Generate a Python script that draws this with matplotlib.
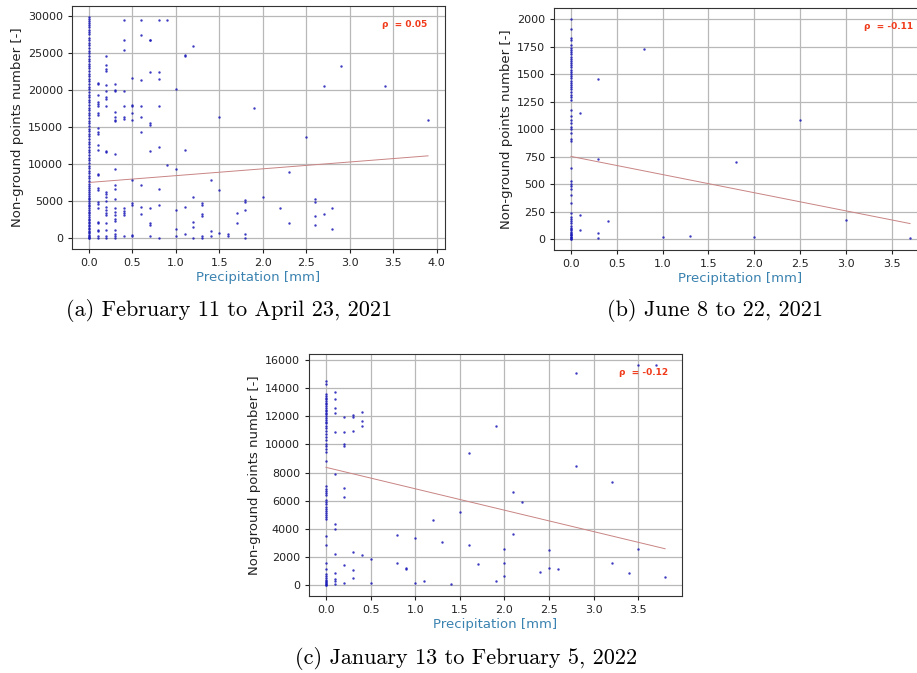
import matplotlib.pyplot as plt
import numpy as np

# Panel (a): February 11 to April 23, 2021
prec_a = [0.1] * 26 + [0.2] * 23 + [0.3] * 21 + [0.4] * 12 + [0.5] * 10 + [0.6] * 9 + [0.7] * 10 + [0.8] * 8 \
    + [0.9] * 2 + [1.0] * 5 + [1.1] * 5 + [1.2] * 5 + [1.3] * 6 + [1.4] * 3 + [1.5] * 3 + [1.6] * 2 + [1.7] * 2 \
    + [1.8] * 5 + [1.9, 2.0, 2.2, 2.3, 2.3, 2.5, 2.6, 2.6, 2.6, 2.6, 2.7, 2.7, 2.8, 2.8, 2.9, 3.4, 3.9]
pts_a = [21000, 20800, 19300, 18400, 18100, 17800, 16900, 16600, 14800, 14300, 14000, 12500, 11900, 8700, 8500,
         6700, 6500, 4900, 4600, 4100, 2200, 2000, 1100, 900, 300, 0,
         24600, 23400, 22900, 22500, 20700, 19900, 19100, 18800, 17900, 11700, 11600, 6200, 5900, 5600, 5000,
         4200, 3800, 3400, 3100, 2000, 1100, 200, 0,
         20800, 20000, 19900, 17000, 16300, 16000, 15800, 11300, 9300, 7200, 6600, 5300, 4000, 3500, 3100, 2500,
         2300, 1100, 500, 200, 0,
         29400, 26700, 25400, 19900, 17900, 16400, 16100, 4000, 3600, 3400, 3100, 300,
         21600, 18000, 17900, 16900, 15900, 7900, 4700, 4400, 400, 200,
         29400, 27400, 21300, 17900, 16300, 14300, 7100, 4200, 3200,
         26800, 26700, 22400, 15500, 15200, 11700, 4000, 2000, 1800, 200,
         29400, 22400, 21500, 17900, 12300, 6600, 4400, 0,
         29400, 9800,
         20100, 9300, 3800, 1200, 200,
         24700, 24600, 11900, 4200, 500,
         26000, 5600, 2200, 1500, 0,
         4700, 4500, 3200, 3000, 300, 0,
         7800, 900, 200,
         16300, 6500, 700,
         500, 300,
         3400, 2000,
         5100, 4800, 3800, 500, 0,
         17500, 5500, 4000, 8900, 2000, 13700, 5200, 4800, 3000, 1800, 20500, 3300, 4000, 1200, 23300, 20600, 16000]
# days without rain
dry_a = [29850, 29650, 29380, 29120, 28750, 28530, 28160, 27820, 27540, 27080, 26790, 26350, 26020, 25730, 25280,
         25040, 24630, 24250, 23870, 23560, 23190, 22940, 22580, 22210, 21860, 21470, 21150, 20780, 20420, 20130,
         19690, 19340, 19010, 18680, 18350, 17960, 17620, 17330, 16920, 16580, 16230, 15870, 15480, 15160, 14790,
         14420, 14080, 13740, 13350, 13020, 12680, 12340, 11920, 11570, 11240, 10860, 10510, 10170, 9780, 9420,
         9080, 8730, 8420, 8050, 7710, 7340, 7020, 6740, 6480, 6210, 5960, 5720, 5460, 5230, 4980, 4740, 4520,
         4260, 4030, 3790, 3520, 3310, 3080, 2840, 2620, 2390, 2180, 1970, 1780, 1560, 1380, 1170, 980, 790,
         620, 440, 300, 170, 60, 0]

# Panel (b): June 8 to 22, 2021
prec_b = [0.8, 0.3, 0.1, 2.5, 0.3, 1.8, 0.1, 0.4, 3.0, 0.1, 0.3, 0.3, 1.0, 1.3, 2.0, 3.7]
pts_b = [1730, 1457, 1142, 1079, 727, 697, 221, 161, 176, 79, 55, 12, 18, 24, 15, 12]
dry_b = [2000, 1905, 1830, 1812, 1764, 1741, 1718, 1703, 1684, 1657, 1641, 1622, 1598, 1583, 1561, 1538, 1522,
         1497, 1483, 1462, 1441, 1418, 1402, 1379, 1362, 1337, 1312, 1291, 1268, 1176, 1118, 1083, 1052, 1021,
         998, 962, 905, 888, 645, 527, 502, 478, 452, 404, 331, 236, 202, 183, 161, 142, 121, 103, 92, 81, 68,
         59, 48, 41, 32, 21, 14, 9, 4, 0]

# Panel (c): January 13 to February 5, 2022
prec_c = [0.1] * 13 + [0.2] * 8 + [0.3] * 6 + [0.4] * 4 + [0.5] * 2 + [0.8] * 2 + [0.9] * 2 + [1.0] * 2 \
    + [1.1, 1.2, 1.3, 1.4, 1.5, 1.6, 1.6, 1.7, 1.9, 1.9, 2.0, 2.0, 2.0, 2.1, 2.1, 2.2, 2.4, 2.5, 2.5, 2.6,
       2.8, 2.8, 3.2, 3.2, 3.4, 3.5, 3.5, 3.7, 3.8]
pts_c = [13710, 13240, 12570, 12270, 10870, 7870, 4350, 3950, 2220, 830, 400, 280, 50,
         11960, 10850, 10040, 9900, 6920, 6240, 1420, 170,
         12100, 11980, 10970, 2340, 1060, 470,
         12290, 11700, 11320, 2170,
         1870, 170,
         3550, 1540,
         1230, 1160,
         3330, 120,
         260, 4590, 3030, 90, 5180, 9380, 2840, 1470, 11320, 280, 2530, 1580, 640, 6590, 3640, 5890, 950, 2480,
         1230, 1160, 15060, 8490, 7330, 1540, 870, 15650, 2530, 15650, 590]
dry_c = [14540, 14310, 13620, 13480, 13330, 13210, 13080, 12960, 12850, 12730, 12620, 12480, 12370, 12250,
         12140, 12020, 11880, 11760, 11630, 11490, 11340, 11180, 10960, 10720, 10510, 10280, 10030, 9870, 9660,
         9430, 8820, 7010, 6860, 6710, 6540, 6390, 6080, 5920, 5750, 5560, 5380, 5240, 5110, 4980, 4830, 4660,
         3470, 2880, 1580, 1110, 750, 610, 480, 390, 290, 210, 140, 80, 30, 0]

# fitted lines (intercept, slope) and correlation coefficients
fit_a = (7500, 923)
fit_b = (751, -165)
fit_c = (8370, -1524)
rho_a = 0.05
rho_b = -0.11
rho_c = -0.12

captions = ['(a) February 11 to April 23, 2021', '(b) June 8 to 22, 2021',
            '(c) January 13 to February 5, 2022']

fig = plt.figure(figsize=(9.17, 6.73), dpi=100)


def panel(rect, prec, pts, dry, fit, rho):
    ax = fig.add_axes(rect)
    x = [0.0] * len(dry) + list(prec)
    y = list(dry) + list(pts)
    ax.scatter(x, y, s=3, color='#1a1ab8', linewidths=0, alpha=0.85, zorder=3)
    xs = np.array([0.0, max(prec)])
    ax.plot(xs, fit[0] + fit[1] * xs, color='#c98484', lw=0.7, zorder=2)
    ax.grid(True, color='#b8b8b8', lw=0.9)
    ax.set_axisbelow(True)
    ax.tick_params(labelsize=8, colors='#222222', length=3, width=0.8)
    for s in ax.spines.values():
        s.set_color('#333333')
    ax.set_xlabel('Precipitation [mm]', fontsize=9.5, color='#3a82b0', labelpad=2)
    ax.set_ylabel('Non-ground points number [-]', fontsize=9.5, color='#222222', labelpad=3)
    ax.text(0.83, 0.925, r'ρ  = %.2f' % rho, transform=ax.transAxes, fontsize=6.5,
            fontweight='bold', color='#f03a1a', va='center', ha='left')
    return ax


ax_a = panel([0.0785, 0.630, 0.4068, 0.361], prec_a, pts_a, dry_a, fit_a, rho_a)
ax_b = panel([0.6041, 0.6285, 0.4068, 0.3596], prec_b, pts_b, dry_b, fit_b, rho_b)
ax_c = panel([0.337, 0.1144, 0.4068, 0.3596], prec_c, pts_c, dry_c, fit_c, rho_c)

fig.text(0.250, 0.538, captions[0], fontsize=16, family='cmr10', ha='center', va='center')
fig.text(0.780, 0.538, captions[1], fontsize=16, family='cmr10', ha='center', va='center')
fig.text(0.508, 0.021, captions[2], fontsize=16, family='cmr10', ha='center', va='center')

fig.savefig('out.png', dpi=100)
